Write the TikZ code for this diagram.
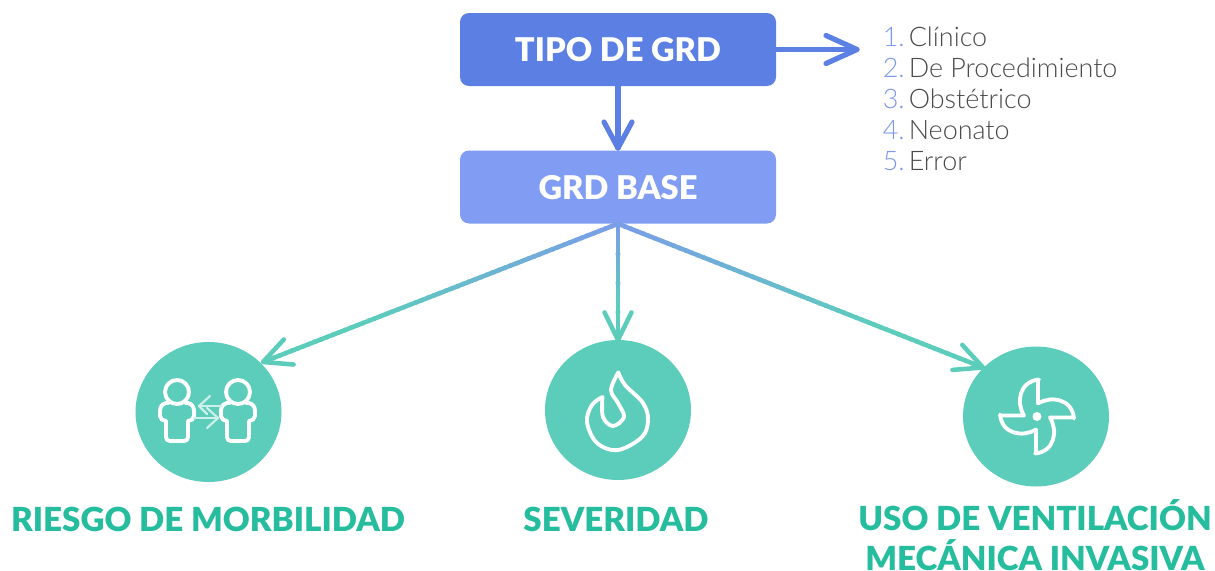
\documentclass[tikz,border=0pt]{standalone}
\usepackage{fontspec}
\setmainfont{Lato}
\newfontfamily\lightfont{Lato Light}
\newfontfamily\heavyfont{Lato Black}
\usetikzlibrary{calc,arrows.meta,shapes.geometric}
\definecolor{boxdark}{HTML}{5B7FE2}
\definecolor{boxlight}{HTML}{819DF3}
\definecolor{teal}{HTML}{5CCDBB}
\definecolor{titleteal}{HTML}{26BD9F}
\definecolor{listnum}{HTML}{7D99E8}
\definecolor{listtxt}{HTML}{4A4A4A}
\definecolor{gradtop}{HTML}{7A9DE8}
\tikzset{
  x=0.75pt,y=-0.75pt,
  stepbox/.style={rounded corners=9*0.75pt,minimum width=316*0.75pt,inner sep=0pt,text=white,font=\heavyfont\fontsize{24.5}{24.5}\selectfont,anchor=center,text depth=0pt},
  disc/.style={ellipse,fill=teal,minimum width=146*0.75pt,minimum height=140*0.75pt,inner sep=0pt},
  title/.style={text=titleteal,font=\heavyfont\fontsize{24.85}{30}\selectfont,align=center,inner sep=0pt,anchor=base},
  item/.style={font=\lightfont\fontsize{20.2}{20.2}\selectfont,inner sep=0pt,anchor=base west,text=listtxt},
  num/.style={font=\lightfont\fontsize{20.2}{20.2}\selectfont,inner sep=0pt,anchor=base east,text=listnum},
  blueline/.style={draw=boxdark,line width=3.9pt,line cap=round,line join=round},
  icon/.style={draw=white,line width=2.9pt,line cap=round,line join=round,fill=none},
  thinicon/.style={draw=white!70!teal,line width=1.6pt,line cap=round,line join=round},
}
\newcommand{\gradarrow}[2]{%
  \foreach \i in {0,...,59}{%
    \pgfmathsetmacro{\mixv}{min(100,\i/42*100)}%
    \pgfmathsetmacro{\ta}{\i/60}%
    \pgfmathsetmacro{\tb}{(\i+1.3)/60 > 1 ? 1 : (\i+1.3)/60}%
    \draw[teal!\mixv!gradtop,line width=3.4pt] ($(#1)!\ta!(#2)$) -- ($(#1)!\tb!(#2)$);
  }%
  \draw[teal,line width=3.4pt,line cap=round,line join=round] ($(#2)!23pt!-26:(#1)$) -- (#2) -- ($(#2)!23pt!26:(#1)$);
}
\begin{document}
\begin{tikzpicture}
\useasboundingbox (0,0) rectangle (1215,571);
\fill[white] (0,0) rectangle (1215,571);
\node[stepbox,fill=boxdark,minimum height=73*0.75pt,text height=18pt] (tipo) at (618,49.5) {TIPO DE GRD};
\node[stepbox,fill=boxlight,minimum height=73*0.75pt,text height=19pt] (base) at (618,187) {GRD BASE};
\coordinate (listarrow) at (857,49.5);
\coordinate (downtip) at (618,148);
\draw[blueline] (tipo.east) -- (listarrow);
\draw[blueline] ($(listarrow)+(-31,-14)$) -- (listarrow) -- ($(listarrow)+(-31,14)$);
\draw[blueline] (tipo.south) -- (downtip);
\draw[blueline] (604,122) -- (downtip) -- (632,122);
\foreach \n/\t/\y in {1/Clínico/46.5,2/De Procedimiento/77.5,3/Obstétrico/108.5,4/Neonato/139.5,5/Error/170.5}{
  \node[num] (n\n) at (905,\y) {\n.};
  \node[item] (t\n) at (908.5,\y) {\t};
}
\node[disc] (c1) at (208.5,412) {};
\node[disc] (c2) at (618,410) {};
\node[disc] (c3) at (1036,416.5) {};
\coordinate (a1) at (263,362);
\coordinate (a2) at (618,340);
\coordinate (a3) at (983,367.5);
\gradarrow{base.south}{a1}
\gradarrow{base.south}{a2}
\gradarrow{base.south}{a3}
\node[title] (l1) at (208,531) {RIESGO DE MORBILIDAD};
\node[title] (l2) at (616,531) {SEVERIDAD};
\node[title] (l3) at (1035,570.5) {USO DE VENTILACIÓN\\MECÁNICA INVASIVA};
% persons icon
\begin{scope}[shift={(c1)}]
\foreach \dx in {-31.5,29.5}{
 \begin{scope}[xshift=\dx*0.75pt]
 \draw[icon] (0,-20) circle[radius=12];
 \draw[icon] (-8,-9) -- (-11,-9) .. controls (-15,-8) and (-17,-5) .. (-17,-1) -- (-17,4) .. controls (-17,7) and (-14,9) .. (-11,9) -- (-11,25) .. controls (-11,28) and (-9,29) .. (-7,29) -- (7,29) .. controls (9,29) and (11,28) .. (11,25) -- (11,9) .. controls (14,9) and (17,7) .. (17,4) -- (17,-1) .. controls (17,-5) and (15,-8) .. (11,-9) -- (8,-9);
 \end{scope}}
\draw[thinicon] (13,-6) -- (-9.5,-6);
\draw[thinicon] (1.5,-16) -- (-9.5,-6) -- (-1.5,2);
\draw[thinicon] (-14.5,6) -- (9.5,6);
\draw[thinicon] (-1.5,-4) -- (9.5,6) -- (-1.5,16);
\end{scope}
% flame icon
\begin{scope}[shift={(c2)}]
\draw[icon] plot[smooth,tension=.6] coordinates {(0.3,-37.7) (7,-25) (25,-7) (30,10) (24,27) (0,40) (-21,33) (-31,12) (-26,-5) (-15.5,-13)}
  -- plot[smooth,tension=.6] coordinates {(-15.5,-13) (-15,7) (-5,16) (6,7) (0,-7) (-7,-20) (0.3,-37.7)};
\end{scope}
% fan icon
\begin{scope}[shift={(c3)}]
\fill[white] (1,0) circle[radius=4.5];
\foreach \r in {0,90,180,270}{
 \begin{scope}[shift={(1,0)},rotate=\r]
 \draw[icon] (1,-36) -- (1,-13) .. controls (14,-21) and (35,-18) .. (37,2);
 \end{scope}
}
\end{scope}
\end{tikzpicture}
\end{document}
